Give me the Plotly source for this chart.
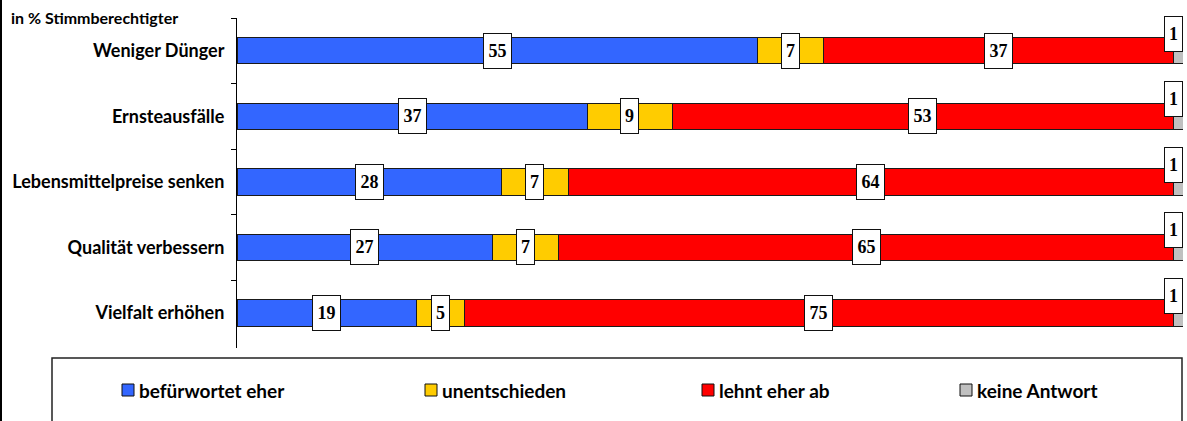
import plotly.graph_objects as go

# Survey data (in % of eligible voters)
categories = [
    "Weniger Dünger",
    "Ernsteausfälle",
    "Lebensmittelpreise senken",
    "Qualität verbessern",
    "Vielfalt erhöhen",
]
befuerwortet = [55, 37, 28, 27, 19]
unentschieden = [7, 9, 7, 7, 5]
lehnt_ab = [37, 53, 64, 65, 75]
keine_antwort = [1, 1, 1, 1, 1]

series_names = ["befürwortet eher", "unentschieden", "lehnt eher ab", "keine Antwort"]
series_values = [befuerwortet, unentschieden, lehnt_ab, keine_antwort]
series_colors = ["#3366FF", "#FFCC00", "#FF0000", "#C0C0C0"]

W, H = 1187, 421
ML, MR, MT, MB = 237, 4, 18, 73
PW = W - ML - MR
PH = H - MT - MB


def px_x(px):
    return (px - ML) / PW


def px_y(py):
    return (H - MB - py) / PH


fig = go.Figure()

for name, vals, col in zip(series_names, series_values, series_colors):
    fig.add_trace(go.Bar(
        y=categories, x=vals, name=name, orientation="h",
        width=0.4,
        marker=dict(color=col, line=dict(color="#1a1a1a", width=1)),
        showlegend=False,
        hoverinfo="x+y+name",
    ))

annotations = []
label_font = dict(family="Liberation Serif", size=18, color="black")
for i, cat in enumerate(categories):
    start = 0
    for s, vals in enumerate(series_values):
        v = vals[i]
        mid = start + v / 2
        txt = str(v)
        w = 27 if len(txt) > 1 else 17
        extra = dict(yshift=17, xshift=-5) if s == 3 else {}
        annotations.append(dict(
            x=mid, y=cat, xref="x", yref="y",
            text=f"<b>{txt}</b>", showarrow=False,
            font=label_font, bgcolor="white",
            bordercolor="#111", borderwidth=1, borderpad=0,
            width=w, height=34, align="center", valign="middle",
            **extra,
        ))
        start += v

# Unit label in the top-left corner
annotations.append(dict(
    x=px_x(9), y=px_y(17), xref="paper", yref="paper",
    xanchor="left", yanchor="middle",
    text="<b>in % Stimmberechtigter</b>", showarrow=False,
    font=dict(family="Lato", size=16, color="black"),
))

shapes = [
    # left frame line
    dict(type="line", xref="paper", yref="paper",
         x0=px_x(1), x1=px_x(1), y0=px_y(0), y1=px_y(H),
         line=dict(color="black", width=2)),
    # legend frame
    dict(type="rect", xref="paper", yref="paper",
         x0=px_x(52), x1=px_x(1182), y0=px_y(358), y1=px_y(H + 10),
         line=dict(color="#222", width=1.5), fillcolor="white", layer="below"),
]

legend_x = [122, 425, 702, 960]
legend_cy = 390
for name, col, lx in zip(series_names, series_colors, legend_x):
    shapes.append(dict(
        type="rect", xref="paper", yref="paper",
        x0=px_x(lx), x1=px_x(lx + 12), y0=px_y(legend_cy - 6), y1=px_y(legend_cy + 6),
        line=dict(color="#111", width=1), fillcolor=col,
    ))
    annotations.append(dict(
        x=px_x(lx + 15), y=px_y(legend_cy), xref="paper", yref="paper",
        xanchor="left", yanchor="middle", showarrow=False,
        text=f"<b>{name}</b>",
        font=dict(family="Lato", size=19, color="black"),
    ))

fig.update_layout(
    width=W, height=H, autosize=False,
    margin=dict(l=ML, r=MR, t=MT, b=MB),
    barmode="stack",
    plot_bgcolor="white", paper_bgcolor="white",
    annotations=annotations, shapes=shapes,
    showlegend=False,
    xaxis=dict(range=[0, 100], visible=False, fixedrange=True),
    yaxis=dict(
        type="category", categoryorder="array", categoryarray=categories,
        autorange="reversed",
        tickson="boundaries", ticks="outside", ticklen=5, tickcolor="black",
        showline=True, linecolor="black", linewidth=1,
        showgrid=False, zeroline=False,
        ticklabelstandoff=8,
        tickfont=dict(family="Lato", size=18, color="black", weight="bold"),
    ),
)

fig.write_html("out.html")
